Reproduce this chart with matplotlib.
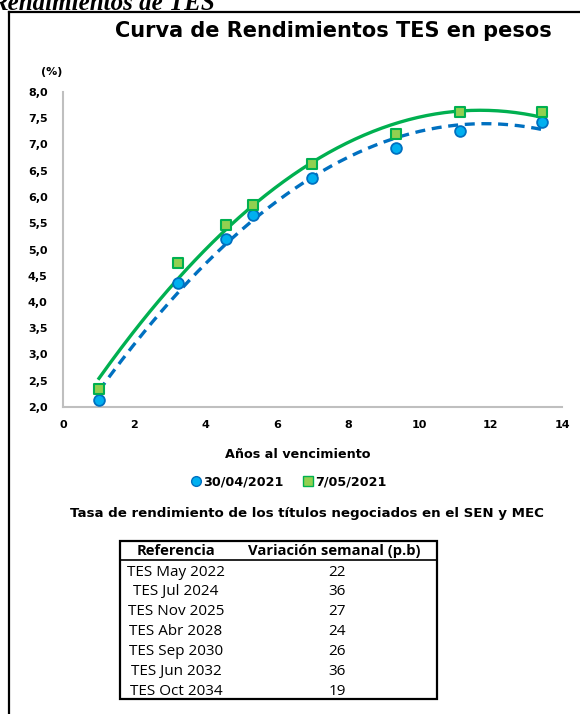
import numpy as np
import matplotlib
matplotlib.use("Agg")
import matplotlib.pyplot as plt
from matplotlib.lines import Line2D
from matplotlib.patches import Rectangle

# años al vencimiento
plazo = [1.01, 3.23, 4.58, 5.34, 6.99, 9.35, 11.15, 13.45]
# tasas (%)
tasa_abr30 = [2.13, 4.37, 5.20, 5.65, 6.36, 6.93, 7.26, 7.43]
tasa_may07 = [2.34, 4.74, 5.47, 5.84, 6.62, 7.20, 7.61, 7.62]

referencias = ["TES May 2022", "TES Jul 2024", "TES Nov 2025", "TES Abr 2028",
               "TES Sep 2030", "TES Jun 2032", "TES Oct 2034"]
variacion = [22, 36, 27, 24, 26, 36, 19]

y_ticks = [2.0, 2.5, 3.0, 3.5, 4.0, 4.5, 5.0, 5.5, 6.0, 6.5, 7.0, 7.5, 8.0]
x_ticks = [0, 2, 4, 6, 8, 10, 12, 14]

W, H = 580, 714
fig = plt.figure(figsize=(W / 100, H / 100), dpi=100)

def fx(px):
    return px / W

def fy(py):
    return 1 - py / H

ax = fig.add_axes([fx(63), fy(407), fx(562) - fx(63), fy(92) - fy(407)])

# lineas de tendencia polinomica (orden 2), como en Excel
xs = np.linspace(min(plazo), max(plazo), 200)
c1 = np.polyfit(plazo, tasa_abr30, 2)
c2 = np.polyfit(plazo, tasa_may07, 2)
ax.plot(xs, np.polyval(c1, xs), color="#0070C0", lw=2.4, ls=(0, (3, 2)), zorder=2)
ax.plot(xs, np.polyval(c2, xs), color="#00B050", lw=2.4, zorder=2)

ax.scatter(plazo, tasa_abr30, marker="o", s=60, facecolor="#00B0F0",
           edgecolor="#0070C0", linewidth=1.3, zorder=3)
ax.scatter(plazo, tasa_may07, marker="s", s=55, facecolor="#92D050",
           edgecolor="#00B050", linewidth=1.5, zorder=3)

ax.set_xlim(0, 14)
ax.set_ylim(2, 8)
ax.set_xticks(x_ticks)
ax.set_yticks(y_ticks)
ax.set_yticklabels([f"{v:.1f}".replace(".", ",") for v in y_ticks])
ax.tick_params(length=0, labelsize=8)
ax.tick_params(axis="y", pad=11)
ax.tick_params(axis="x", pad=9)
for lab in ax.get_xticklabels() + ax.get_yticklabels():
    lab.set_fontweight("bold")
for s in ["top", "right"]:
    ax.spines[s].set_visible(False)
for s in ["left", "bottom"]:
    ax.spines[s].set_color("#bfbfbf")
    ax.spines[s].set_linewidth(1.5)

# marco y textos
fig.add_artist(Line2D([fx(9), fx(9)], [fy(12), 0], color="black", lw=1.6))
fig.add_artist(Line2D([fx(9), 1], [fy(12), fy(12)], color="black", lw=1.6))
fig.text(fx(215), fy(10), "Rendimientos de TES", ha="right", va="baseline",
         family="Liberation Serif", style="italic", weight="bold", fontsize=18)

fig.text(fx(333), fy(31), "Curva de Rendimientos TES en pesos", ha="center",
         va="center", weight="bold", fontsize=15)
fig.text(fx(52), fy(72), "(%)", ha="center", va="center", weight="bold", fontsize=8)
fig.text(fx(298), fy(455), "Años al vencimiento", ha="center", va="center",
         weight="bold", fontsize=9.2)

h1 = Line2D([], [], ls="none", marker="o", ms=7, mfc="#00B0F0", mec="#0070C0")
h2 = Line2D([], [], ls="none", marker="s", ms=7, mfc="#92D050", mec="#00B050")
leg = fig.legend([h1, h2], ["30/04/2021", "7/05/2021"], loc="center",
                 bbox_to_anchor=(fx(288), fy(482)), ncol=2, frameon=False,
                 handletextpad=0.1, columnspacing=1.4, handlelength=1.0,
                 prop={"weight": "bold", "size": 9.2})

fig.text(fx(307), fy(514),
         "Tasa de rendimiento de los títulos negociados en el SEN y MEC",
         ha="center", va="center", weight="bold", fontsize=9.6)

# tabla
fig.add_artist(Rectangle((fx(120), fy(699)), fx(437) - fx(120), fy(541) - fy(699),
                         fill=False, ec="black", lw=1.6, transform=fig.transFigure))
fig.add_artist(Line2D([fx(120), fx(437)], [fy(560), fy(560)], color="black", lw=1.2))
fig.text(fx(176), fy(551), "Referencia", ha="center", va="center",
         family="Open Sans", weight="bold", fontsize=10.6)
fig.text(fx(334), fy(551), "Variación semanal (p.b)", ha="center", va="center",
         family="Open Sans", weight="bold", fontsize=10.6)
for i, (r, v) in enumerate(zip(referencias, variacion)):
    yy = fy(572 + i * 19.9)
    fig.text(fx(176), yy, r, ha="center", va="center", family="Open Sans", fontsize=11)
    fig.text(fx(337), yy, str(v), ha="center", va="center", family="Open Sans", fontsize=11)

fig.savefig("out.png", dpi=100)
